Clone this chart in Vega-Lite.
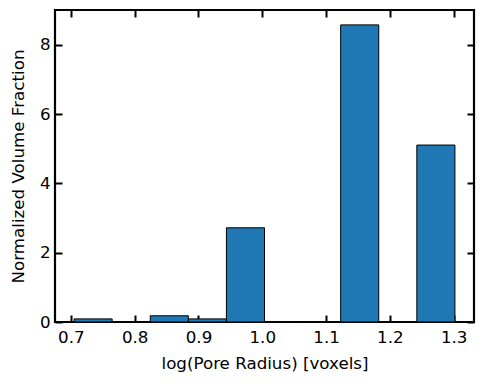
{
  "$schema": "https://vega.github.io/schema/vega-lite/v6.json",
  "width": 419,
  "height": 312,
  "autosize": "none",
  "padding": {"left": 55, "top": 10, "right": 10, "bottom": 62},
  "config": {
    "view": {"stroke": "black", "strokeWidth": 2.2},
    "font": "DejaVu Sans",
    "axis": {
      "grid": false,
      "domain": false,
      "offset": -7,
      "zindex": 1,
      "tickColor": "black",
      "tickWidth": 2,
      "tickSize": 7,
      "labelFont": "DejaVu Sans",
      "labelFontSize": 16.7,
      "labelColor": "black",
      "labelFlush": false,
      "titleFont": "DejaVu Sans",
      "titleFontSize": 16.7,
      "titleFontWeight": "normal",
      "titleColor": "black"
    }
  },
  "data": {
    "values": [
      {"start": 0.705, "end": 0.7647, "density": 0.09},
      {"start": 0.8244, "end": 0.8841, "density": 0.18},
      {"start": 0.8841, "end": 0.9438, "density": 0.09},
      {"start": 0.9438, "end": 1.0035, "density": 2.72},
      {"start": 1.1229, "end": 1.1826, "density": 8.58},
      {"start": 1.2423, "end": 1.302, "density": 5.11}
    ]
  },
  "layer": [
    {
      "mark": {"type": "bar", "fill": "#1f77b4", "stroke": "black", "strokeWidth": 1},
      "encoding": {
        "x": {
          "field": "start",
          "type": "quantitative",
          "scale": {"domain": [0.6751, 1.3319], "nice": false, "zero": false},
          "axis": {"orient": "bottom", "values": [0.7, 0.8, 0.9, 1.0, 1.1, 1.2, 1.3], "format": ".1f", "title": "log(Pore Radius) [voxels]", "labelPadding": 7, "titlePadding": 10}
        },
        "x2": {"field": "end"},
        "y": {
          "field": "density",
          "type": "quantitative",
          "scale": {"domain": [0, 9.01], "nice": false},
          "axis": {"orient": "left", "values": [0, 2, 4, 6, 8], "title": "Normalized Volume Fraction", "labelPadding": 5, "titlePadding": 12}
        },
        "y2": {"datum": 0}
      }
    },
    {
      "mark": {"type": "bar", "opacity": 0},
      "encoding": {
        "x": {
          "field": "start",
          "type": "quantitative",
          "scale": {"domain": [0.6751, 1.3319], "nice": false, "zero": false},
          "axis": {"orient": "top", "values": [0.7, 0.8, 0.9, 1.0, 1.1, 1.2, 1.3], "labels": false, "title": null}
        },
        "x2": {"field": "end"},
        "y": {
          "field": "density",
          "type": "quantitative",
          "scale": {"domain": [0, 9.01], "nice": false},
          "axis": {"orient": "right", "values": [0, 2, 4, 6, 8], "labels": false, "title": null}
        },
        "y2": {"datum": 0}
      }
    }
  ],
  "resolve": {"axis": {"x": "independent", "y": "independent"}}
}
